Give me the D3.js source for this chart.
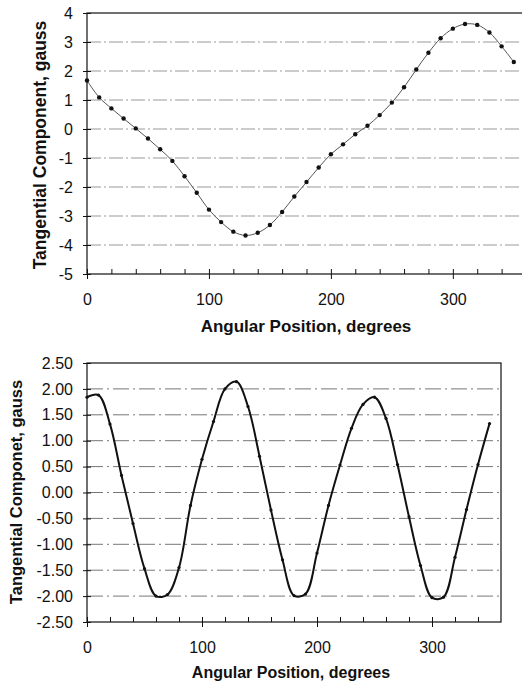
<!DOCTYPE html>
<html>
<head>
<meta charset="utf-8">
<script src="https://cdn.jsdelivr.net/npm/d3@7"></script>
<style>
  html, body { margin: 0; padding: 0; background: #fff; }
  svg { display: block; }
  text { font-family: "Liberation Sans", Arial, sans-serif; fill: #111; }
</style>
</head>
<body>
<svg id="chart" width="522" height="684"></svg>
<script>
// ---------- data ----------
const angles = [0,10,20,30,40,50,60,70,80,90,100,110,120,130,140,150,160,170,
                180,190,200,210,220,230,240,250,260,270,280,290,300,310,320,330,340,350];

const topValues = [1.67, 1.09, 0.71, 0.36, 0.02, -0.33, -0.70, -1.10, -1.63, -2.20,
                   -2.78, -3.21, -3.54, -3.67, -3.58, -3.31, -2.86, -2.33, -1.83, -1.33,
                   -0.87, -0.53, -0.18, 0.11, 0.48, 0.91, 1.44, 2.05, 2.63, 3.13,
                   3.46, 3.62, 3.59, 3.33, 2.85, 2.31];

const bottomValues = [1.84, 1.88, 1.32, 0.33, -0.60, -1.47, -2.00, -1.97, -1.45, -0.25,
                      0.64, 1.37, 2.00, 2.14, 1.66, 0.70, -0.34, -1.30, -1.99, -1.96,
                      -1.17, -0.25, 0.53, 1.24, 1.70, 1.84, 1.43, 0.54, -0.47, -1.41,
                      -2.03, -2.02, -1.25, -0.33, 0.54, 1.33];

const xMajorTicks = [0, 100, 200, 300];
const xMinorTicks = [20,40,60,80,120,140,160,180,220,240,260,280,320,340];
const topYTicks = [4, 3, 2, 1, 0, -1, -2, -3, -4, -5];
const bottomYTicks = [2.5, 2.0, 1.5, 1.0, 0.5, 0.0, -0.5, -1.0, -1.5, -2.0, -2.5];

const xTitle = "Angular Position, degrees";
const topYTitle = "Tangential Component, gauss";
const bottomYTitle = "Tangential Componet, gauss";

// ---------- drawing ----------
const svg = d3.select("#chart");
svg.append("rect").attr("width", 522).attr("height", 684).attr("fill", "#fff");

function drawChart(cfg) {
  const g = svg.append("g");
  const x = d3.scaleLinear().domain([0, 360]).range([cfg.left, cfg.right]);
  const y = d3.scaleLinear().domain(cfg.yDomain).range([cfg.bottom, cfg.top]);

  // gridlines
  g.append("g").selectAll("line").data(cfg.yTicks.filter(v => v !== cfg.yDomain[0] && v !== cfg.yDomain[1]))
    .join("line")
    .attr("x1", cfg.left).attr("x2", cfg.right)
    .attr("y1", d => y(d)).attr("y2", d => y(d))
    .attr("stroke", cfg.gridColor).attr("stroke-width", 1)
    .attr("stroke-dasharray", cfg.gridDash);

  // plot border
  g.append("rect")
    .attr("x", cfg.left).attr("y", cfg.top)
    .attr("width", cfg.right - cfg.left).attr("height", cfg.bottom - cfg.top)
    .attr("fill", "none").attr("stroke", "#111").attr("stroke-width", 1.2);

  // x axis: major (crossing) ticks + labels
  const xAxis = d3.axisBottom(x).tickValues(xMajorTicks).tickSize(5).tickPadding(15)
    .tickFormat(d => String(d));
  const gx = g.append("g").attr("transform", `translate(0,${cfg.bottom})`).call(xAxis);
  gx.select(".domain").remove();
  gx.selectAll("text").attr("font-size", cfg.labelSize).attr("font-family", "Liberation Sans, Arial, sans-serif").attr("fill", "#111");
  gx.selectAll("line").attr("stroke", "#111").attr("y1", -5);

  // minor x ticks (inside)
  const xMinor = d3.axisBottom(x).tickValues(xMinorTicks).tickSize(-5).tickFormat("");
  const gxm = g.append("g").attr("transform", `translate(0,${cfg.bottom})`).call(xMinor);
  gxm.select(".domain").remove();
  gxm.selectAll("line").attr("stroke", "#111");

  // y axis
  const yAxis = d3.axisLeft(y).tickValues(cfg.yTicks).tickSize(4).tickPadding(10)
    .tickFormat(cfg.yFormat);
  const gy = g.append("g").attr("transform", `translate(${cfg.left},0)`).call(yAxis);
  gy.select(".domain").remove();
  gy.selectAll("text").attr("font-size", cfg.labelSize).attr("font-family", "Liberation Sans, Arial, sans-serif").attr("fill", "#111");
  gy.selectAll("line").attr("stroke", "#111").attr("x2", -4).attr("x1", 4);

  // titles
  g.append("text")
    .attr("x", cfg.xTitleX).attr("y", cfg.xTitleY)
    .attr("text-anchor", "middle").attr("dominant-baseline", "middle")
    .attr("font-weight", "bold").attr("font-size", cfg.titleSize)
    .text(xTitle);
  g.append("text")
    .attr("transform", `translate(${cfg.yTitleX},${cfg.yTitleY}) rotate(-90)`)
    .attr("text-anchor", "middle").attr("dominant-baseline", "middle")
    .attr("font-weight", "bold").attr("font-size", cfg.yTitleSize)
    .text(cfg.yTitle);

  // series
  const data = angles.map((a, i) => ({ a, v: cfg.values[i] }));
  const line = d3.line().x(d => x(d.a)).y(d => y(d.v)).curve(d3.curveCatmullRom.alpha(0.5));
  g.append("path").datum(data)
    .attr("d", line).attr("fill", "none")
    .attr("stroke", cfg.lineColor).attr("stroke-width", cfg.lineWidth);
  g.append("g").selectAll("circle").data(data).join("circle")
    .attr("cx", d => x(d.a)).attr("cy", d => y(d.v))
    .attr("r", cfg.markerR).attr("fill", "#111");
}

drawChart({
  left: 87, right: 526, top: 13, bottom: 274,
  yDomain: [-5, 4], yTicks: topYTicks, yFormat: d => String(d),
  values: topValues, yTitle: topYTitle,
  gridColor: "#999", gridDash: "14,3,2,3",
  lineColor: "#555", lineWidth: 1, markerR: 2.2,
  labelSize: 16, titleSize: 17, yTitleSize: 17.5,
  xTitleX: 306, xTitleY: 328, yTitleX: 41, yTitleY: 145
});

drawChart({
  left: 87, right: 501, top: 363, bottom: 622,
  yDomain: [-2.5, 2.5], yTicks: bottomYTicks, yFormat: d => d.toFixed(2),
  values: bottomValues, yTitle: bottomYTitle,
  gridColor: "#777", gridDash: "16,4,2,4",
  lineColor: "#111", lineWidth: 2, markerR: 1.6,
  labelSize: 16, titleSize: 16, yTitleSize: 16.5,
  xTitleX: 291, xTitleY: 674, yTitleX: 18, yTitleY: 492
});
</script>
</body>
</html>
